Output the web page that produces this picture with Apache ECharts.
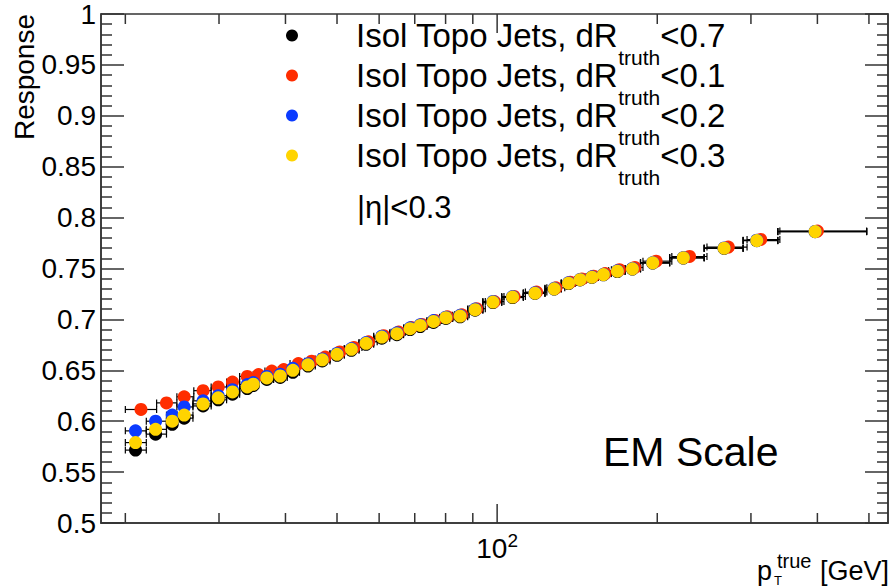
<!DOCTYPE html>
<html><head><meta charset="utf-8">
<script src="https://cdn.jsdelivr.net/npm/echarts@6/dist/echarts.min.js"></script>
<style>html,body{margin:0;padding:0;background:#fff}#c{width:892px;height:588px}</style>
</head><body><div id="c"></div>
<script>
const FONT = '"Liberation Sans", Arial, Helvetica, sans-serif';

// ---- data ----
const seriesNames = ['dR<0.7', 'dR<0.1', 'dR<0.2', 'dR<0.3'];
const legendCuts = ['0.7', '0.1', '0.2', '0.3'];
const seriesColors = ['#000000', '#ff2d00', '#0b3bff', '#ffd400'];

// pT (GeV) of the points shared by dR<0.7, dR<0.2, dR<0.3
const ptMain = [20.9, 22.8, 24.5, 25.8, 28.0, 29.9, 31.8, 33.9, 34.8, 36.9, 39.1, 41.3, 44.1, 46.9, 50.0, 53.2, 56.7, 60.7, 64.8, 68.6, 71.7, 75.9, 80.1, 85.2, 90.9, 98.2, 106.9, 117.8, 128.0, 136.2, 143.2, 150.7, 158.4, 168.3, 179.6, 196.1, 223.9, 267.1, 307.7, 396.1];
const binEdgesMain = [20, 21.9, 23.9, 25.0, 26.8, 29.0, 31.0, 32.8, 34.4, 35.6, 38.0, 40.3, 42.5, 45.5, 48.5, 51.6, 55.0, 58.6, 62.8, 66.7, 70.2, 73.8, 78.0, 82.5, 88.0, 94.0, 102, 112, 123, 132, 140, 147, 155, 162, 174, 186, 211, 245, 290, 337, 495];
const respDR07 = [0.5716, 0.5873, 0.597, 0.603, 0.615, 0.621, 0.6265, 0.632, 0.635, 0.641, 0.643, 0.648, 0.6542, 0.6592, 0.6647, 0.6696, 0.6755, 0.6815, 0.685, 0.690, 0.693, 0.697, 0.701, 0.7025, 0.709, 0.7165, 0.7215, 0.7255, 0.7298, 0.7352, 0.7388, 0.7412, 0.7438, 0.747, 0.7495, 0.7553, 0.7603, 0.7697, 0.7773, 0.7862];
const respDR02 = [0.5905, 0.600, 0.606, 0.614, 0.620, 0.625, 0.631, 0.636, 0.638, 0.644, 0.646, 0.652, 0.6565, 0.6612, 0.6665, 0.6714, 0.6772, 0.6835, 0.6868, 0.6917, 0.6948, 0.6988, 0.7022, 0.704, 0.7102, 0.7176, 0.7224, 0.7262, 0.7305, 0.736, 0.7393, 0.7418, 0.7443, 0.7478, 0.75, 0.7558, 0.7608, 0.7702, 0.7778, 0.7864];
const respDR03 = [0.579, 0.592, 0.600, 0.606, 0.617, 0.623, 0.6287, 0.6336, 0.6363, 0.6425, 0.6444, 0.650, 0.6554, 0.6603, 0.6657, 0.6706, 0.6765, 0.6826, 0.686, 0.6909, 0.6941, 0.698, 0.7017, 0.7033, 0.7095, 0.717, 0.7219, 0.7258, 0.730, 0.7356, 0.739, 0.7415, 0.744, 0.7474, 0.7497, 0.7556, 0.7605, 0.7699, 0.7775, 0.7863];

// dR<0.1 has its own binning
const ptDR01 = [21.4, 23.9, 25.8, 28.0, 29.9, 31.8, 33.9, 35.6, 37.7, 39.7, 42.3, 44.8, 47.5, 50.6, 53.8, 57.3, 61.2, 65.3, 69.0, 72.2, 76.4, 80.6, 85.8, 91.5, 98.8, 107.6, 118.6, 129, 137.2, 144.3, 151.8, 159.6, 169.8, 181.5, 199, 230, 272, 313, 400];
const binEdgesDR01 = [20, 22.9, 25.0, 26.9, 29.0, 31.0, 32.8, 34.8, 36.6, 38.8, 40.8, 43.5, 46.2, 49.2, 52.4, 55.7, 59.5, 63.2, 67.2, 70.8, 74.4, 78.6, 83.2, 88.6, 95, 103, 113, 124, 134, 141, 148, 156, 164, 176, 188, 213, 248, 295, 340, 495];
const respDR01 = [0.6115, 0.618, 0.624, 0.630, 0.6336, 0.6385, 0.644, 0.6458, 0.6493, 0.6507, 0.6566, 0.659, 0.663, 0.668, 0.6725, 0.678, 0.684, 0.6875, 0.692, 0.695, 0.699, 0.7025, 0.7045, 0.7105, 0.7175, 0.7225, 0.7268, 0.731, 0.7365, 0.7398, 0.7425, 0.745, 0.7488, 0.751, 0.7572, 0.7618, 0.771, 0.7785, 0.7868];

const xTickValues = [20, 30, 40, 50, 60, 70, 80, 90, 100, 200, 300, 400, 500];
const xMajorTicks = [100];
const xMin = 18, xMax = 543;
const yMin = 0.5, yMax = 1, yInterval = 0.05;

// ---- build ----
const seriesDefs = [
  {pt: ptMain, edges: binEdgesMain, resp: respDR07},
  {pt: ptDR01, edges: binEdgesDR01, resp: respDR01},
  {pt: ptMain, edges: binEdgesMain, resp: respDR02},
  {pt: ptMain, edges: binEdgesMain, resp: respDR03}
];

const AX = '#333';
function renderErr(params, api) {
  const lo = api.coord([api.value(0), api.value(2)]);
  const hi = api.coord([api.value(1), api.value(2)]);
  const c = 3.5, st = {stroke: '#000', lineWidth: 1.2};
  return {type: 'group', children: [
    {type: 'line', shape: {x1: lo[0], y1: lo[1], x2: hi[0], y2: hi[1]}, style: st},
    {type: 'line', shape: {x1: lo[0], y1: lo[1] - c, x2: lo[0], y2: lo[1] + c}, style: st},
    {type: 'line', shape: {x1: hi[0], y1: hi[1] - c, x2: hi[0], y2: hi[1] + c}, style: st}
  ]};
}
function renderTicks(params, api) {
  const v = api.value(0);
  const b = api.coord([v, yMin]);
  const t = api.coord([v, yMax]);
  const L = xMajorTicks.indexOf(v) >= 0 ? 19 : 10;
  const st = {stroke: AX, lineWidth: 1.5};
  return {type: 'group', children: [
    {type: 'line', shape: {x1: b[0], y1: b[1], x2: b[0], y2: b[1] - L}, style: st},
    {type: 'line', shape: {x1: t[0], y1: t[1], x2: t[0], y2: t[1] + L}, style: st}
  ]};
}

const series = [];
series.push({type: 'custom', name: 'xticks', renderItem: renderTicks, silent: true, clip: false, z: 1,
  data: xTickValues.map(v => [v, yMin]), encode: {x: 0, y: 1}});
seriesDefs.forEach((d, k) => {
  series.push({type: 'custom', name: 'err' + k, renderItem: renderErr, silent: true, z: 2,
    data: d.pt.map((p, i) => [d.edges[i], d.edges[i + 1], d.resp[i]]),
    encode: {x: [0, 1], y: 2}});
});
seriesDefs.forEach((d, k) => {
  series.push({type: 'scatter', name: seriesNames[k], symbol: 'circle', symbolSize: 13, z: 3,
    itemStyle: {color: seriesColors[k], opacity: 1}, silent: true,
    data: d.pt.map((p, i) => [p, d.resp[i]])});
});

const yAxisCommon = {
  type: 'value', min: yMin, max: yMax, interval: yInterval,
  axisLine: {show: true, lineStyle: {color: AX, width: 1.5}},
  axisTick: {show: true, inside: true, length: 23, lineStyle: {color: AX, width: 1.5}},
  minorTick: {show: true, splitNumber: 5, length: 11, lineStyle: {color: AX, width: 1.5}},
  splitLine: {show: false}
};

const chart = echarts.init(document.getElementById('c'), null, {renderer: 'svg'});
chart.setOption({
  animation: false,
  backgroundColor: '#fff',
  grid: {left: 101, right: 4, top: 13, bottom: 65, show: true, borderColor: AX, borderWidth: 1.5, backgroundColor: 'transparent'},
  xAxis: {
    type: 'log', logBase: 10, min: xMin, max: xMax,
    axisLine: {show: true, lineStyle: {color: AX, width: 1.5}},
    axisTick: {show: false}, minorTick: {show: false}, splitLine: {show: false}, minorSplitLine: {show: false},
    axisLabel: {
      margin: 8, showMinLabel: false, showMaxLabel: false,
      formatter: v => Math.abs(v - 100) < 0.5 ? '{b|10}{s|2}' : '',
      rich: {
        b: {fontSize: 28, fontFamily: FONT, color: '#000', lineHeight: 34},
        s: {fontSize: 19, fontFamily: FONT, color: '#000', lineHeight: 19, verticalAlign: 'top'}
      }
    }
  },
  yAxis: [
    Object.assign({}, yAxisCommon, {position: 'left',
      axisLabel: {fontSize: 28, fontFamily: FONT, color: '#000', margin: 5, formatter: v => String(+v.toFixed(2))}}),
    Object.assign({}, yAxisCommon, {position: 'right', axisLabel: {show: false}})
  ],
  legend: {
    orient: 'vertical', left: 286, top: 19, padding: 0, itemGap: -9,
    itemWidth: 12, itemHeight: 12, icon: 'circle', selectedMode: false,
    data: seriesNames,
    formatter: name => '{g| }{a|Isol Topo Jets, dR}{s|truth}{a|<' + legendCuts[seriesNames.indexOf(name)] + '}',
    textStyle: {
      rich: {
        g: {width: 53, fontSize: 12},
        a: {fontSize: 33, fontFamily: FONT, color: '#000', lineHeight: 33, verticalAlign: 'top'},
        s: {fontSize: 21, fontFamily: FONT, color: '#000', lineHeight: 21, padding: [28, 0, 0, 0], verticalAlign: 'top'}
      }
    }
  },
  graphic: [
    {type: 'text', x: 24, y: 14, rotation: Math.PI / 2, silent: true,
      style: {text: 'Response', font: '28px ' + FONT, fill: '#000', align: 'right', verticalAlign: 'middle'}},
    {type: 'text', x: 357, y: 207, silent: true,
      style: {text: '|η|<0.3', font: '31px ' + FONT, fill: '#000', align: 'left', verticalAlign: 'middle'}},
    {type: 'text', x: 603, y: 452, silent: true,
      style: {text: 'EM Scale', font: '41px ' + FONT, fill: '#000', align: 'left', verticalAlign: 'middle'}},
    {type: 'text', x: 757, y: 571, silent: true,
      style: {text: 'p', font: '27px ' + FONT, fill: '#000', align: 'left', verticalAlign: 'middle'}},
    {type: 'text', x: 777, y: 561, silent: true,
      style: {text: 'true', font: '20px ' + FONT, fill: '#000', align: 'left', verticalAlign: 'middle'}},
    {type: 'text', x: 774, y: 580, silent: true,
      style: {text: 'T', font: '13px ' + FONT, fill: '#000', align: 'left', verticalAlign: 'middle'}},
    {type: 'text', x: 889, y: 571, silent: true,
      style: {text: '[GeV]', font: '27px ' + FONT, fill: '#000', align: 'right', verticalAlign: 'middle'}}
  ],
  series: series
});
</script></body></html>
